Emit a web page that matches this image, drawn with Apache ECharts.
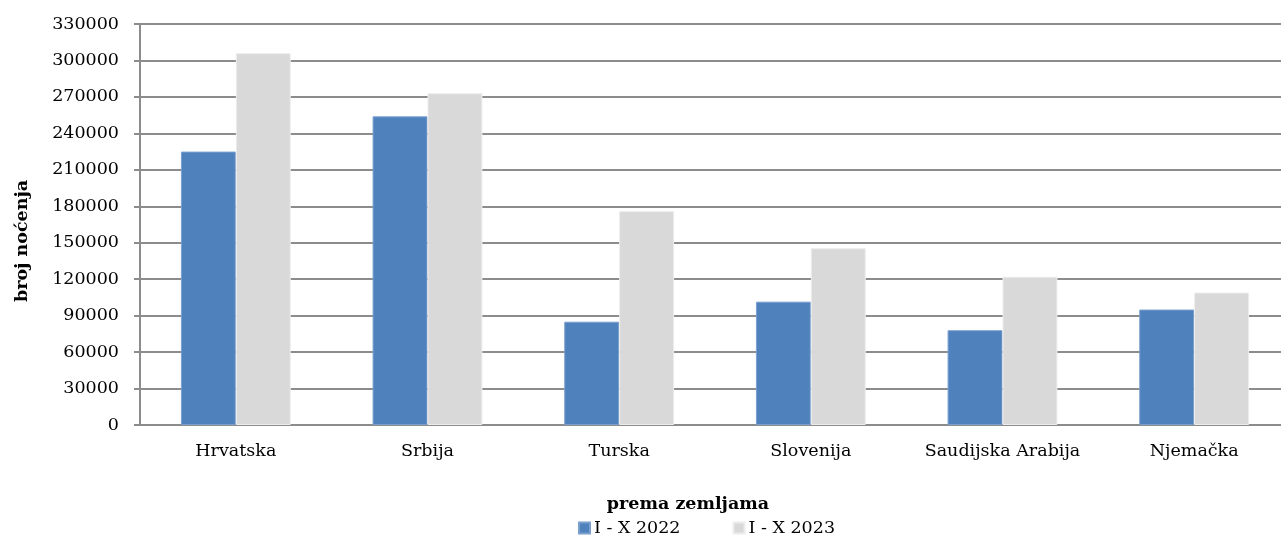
<!DOCTYPE html>
<html>
<head>
<meta charset="utf-8">
<script src="https://cdn.jsdelivr.net/npm/echarts@6/dist/echarts.min.js"></script>
<style>html,body{margin:0;padding:0;background:#fff;overflow:hidden}#c{width:1290px;height:536px}</style>
</head>
<body>
<div id="c"></div>
<script>
const categories = ['Hrvatska', 'Srbija', 'Turska', 'Slovenija', 'Saudijska Arabija', 'Njemačka'];
const seriesNames = ['I - X 2022', 'I - X 2023'];
const values2022 = [225000, 254000, 85000, 101500, 78000, 95000];
const values2023 = [306000, 273000, 176000, 145500, 122000, 109000];
const yTicks = { min: 0, max: 330000, interval: 30000 };
const yAxisTitle = 'broj noćenja';
const xAxisTitle = 'prema zemljama';

const FONT = 'DejaVu Serif';
const chart = echarts.init(document.getElementById('c'), null, { renderer: 'canvas' });
chart.setOption({
  animation: false,
  backgroundColor: '#fff',
  textStyle: { fontFamily: FONT },
  grid: { left: 140, right: 0, top: 24, bottom: 111, containLabel: false },
  legend: {
    data: seriesNames,
    left: 578, top: 519, padding: 0,
    icon: 'rect', itemWidth: 11, itemHeight: 11, itemGap: 52,
    textStyle: { fontFamily: FONT, fontSize: 17.5, color: '#000', padding: [0, 0, 0, -1] }
  },
  xAxis: {
    type: 'category',
    data: categories,
    axisLine: { show: true, lineStyle: { color: '#8c8c8c', width: 2 } },
    axisTick: { show: false },
    axisLabel: { fontFamily: FONT, fontSize: 17.5, color: '#000', margin: 17, interval: 0 }
  },
  yAxis: {
    type: 'value',
    min: yTicks.min, max: yTicks.max, interval: yTicks.interval,
    axisLine: { show: true, lineStyle: { color: '#8c8c8c', width: 2 } },
    axisTick: { show: true, length: 6, lineStyle: { color: '#8c8c8c', width: 2 } },
    splitLine: { show: true, lineStyle: { color: '#8c8c8c', width: 2 } },
    axisLabel: { fontFamily: FONT, fontSize: 17.5, color: '#000', margin: 21, formatter: v => String(v) }
  },
  graphic: [
    { type: 'text', x: 22, y: 241, rotation: Math.PI / 2,
      style: { text: yAxisTitle, font: 'bold 17.5px "DejaVu Serif"', fill: '#000', textAlign: 'center', textVerticalAlign: 'middle' } },
    { type: 'text', x: 688, y: 504,
      style: { text: xAxisTitle, font: 'bold 17.5px "DejaVu Serif"', fill: '#000', textAlign: 'center', textVerticalAlign: 'middle' } }
  ],
  series: [
    { name: seriesNames[0], type: 'bar', data: values2022, barGap: '0%', barCategoryGap: '42.7%',
      itemStyle: { color: '#4F81BD', borderColor: '#7a9fcf', borderWidth: 1 } },
    { name: seriesNames[1], type: 'bar', data: values2023, barGap: '0%', barCategoryGap: '42.7%',
      itemStyle: { color: '#D9D9D9', borderColor: '#ececec', borderWidth: 1 } }
  ]
});
</script>
</body>
</html>
